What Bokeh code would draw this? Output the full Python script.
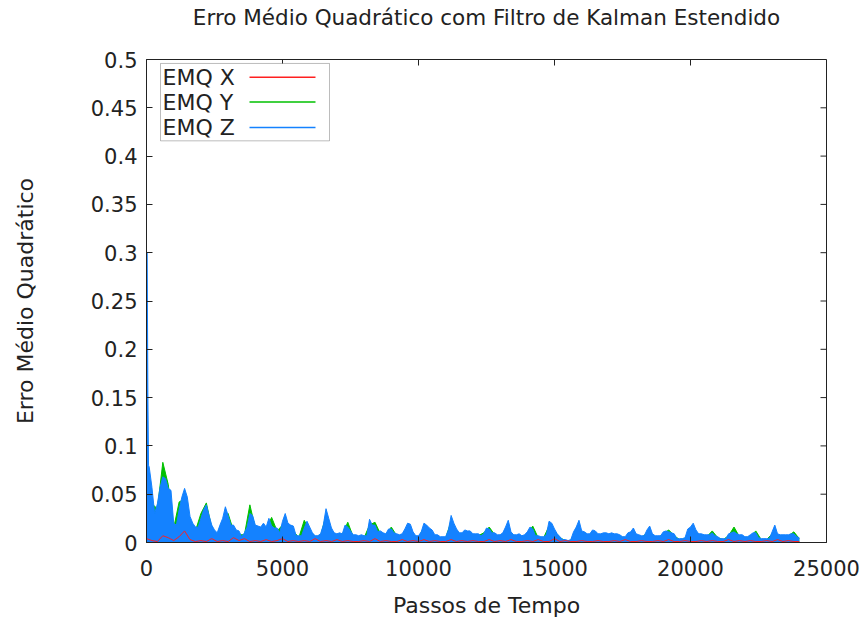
import math
from bokeh.plotting import figure
from bokeh.models import Range1d, FixedTicker, BoxAnnotation, Label, Arrow, ColumnDataSource
from bokeh.embed import file_html
from bokeh.resources import INLINE

TITLE = "Erro Médio Quadrático com Filtro de Kalman Estendido"
X_LABEL = "Passos de Tempo"
Y_LABEL = "Erro Médio Quadrático"
SERIES_NAMES = ["EMQ X", "EMQ Y", "EMQ Z"]
SERIES_COLORS = ["#ff2020", "#00c000", "#1482ff"]

X_TICKS = [0, 5000, 10000, 15000, 20000, 25000]
X_TICK_LABELS = ["0", "5000", "10000", "15000", "20000", "25000"]
Y_TICKS = [0, 0.05, 0.1, 0.15, 0.2, 0.25, 0.3, 0.35, 0.4, 0.45, 0.5]
Y_TICK_LABELS = ["0", "0.05", "0.1", "0.15", "0.2", "0.25", "0.3", "0.35", "0.4", "0.45", "0.5"]

# EMQ Z
Z_STEPS = [0, 25, 50, 75] + list(range(100, 24001, 100))
Z_VALUES = [
    0.300, 0.300, 0.155, 0.080,
    0.078, 0.057, 0.030, 0.040, 0.057, 0.068, 0.066, 0.056, 0.054,
    0.020, 0.018, 0.034, 0.047, 0.056, 0.047, 0.027, 0.020, 0.016, 0.016,
    0.025, 0.034, 0.039, 0.028, 0.018, 0.013, 0.010, 0.018, 0.025, 0.037,
    0.028, 0.018, 0.018, 0.013, 0.012, 0.006, 0.010, 0.016, 0.030, 0.028,
    0.018, 0.017, 0.016, 0.020, 0.016, 0.025, 0.017, 0.015, 0.015, 0.010,
    0.022, 0.030, 0.020, 0.018, 0.017, 0.007, 0.007, 0.007, 0.015, 0.022,
    0.016, 0.010, 0.007, 0.007, 0.009, 0.018, 0.035, 0.025, 0.015, 0.010,
    0.009, 0.010, 0.009, 0.018, 0.016, 0.012, 0.008, 0.008, 0.007, 0.008,
    0.007, 0.007, 0.024, 0.018, 0.018, 0.011, 0.012, 0.010, 0.009, 0.014,
    0.014, 0.010, 0.009, 0.008, 0.009, 0.014, 0.020, 0.019, 0.011, 0.007,
    0.007, 0.011, 0.020, 0.018, 0.015, 0.013, 0.008, 0.008, 0.006, 0.006,
    0.006, 0.013, 0.028, 0.020, 0.014, 0.010, 0.010, 0.013, 0.012, 0.012,
    0.009, 0.009, 0.009, 0.007, 0.009, 0.015, 0.014, 0.010, 0.010, 0.008,
    0.008, 0.010, 0.016, 0.023, 0.011, 0.008, 0.008, 0.009, 0.007, 0.008,
    0.011, 0.016, 0.014, 0.007, 0.007, 0.006, 0.006, 0.008, 0.022, 0.020,
    0.014, 0.009, 0.006, 0.003, 0.003, 0.002, 0.003, 0.011, 0.016, 0.023,
    0.012, 0.011, 0.009, 0.009, 0.013, 0.012, 0.009, 0.009, 0.010, 0.010,
    0.009, 0.010, 0.009, 0.009, 0.008, 0.006, 0.006, 0.010, 0.011, 0.015,
    0.009, 0.008, 0.007, 0.007, 0.013, 0.017, 0.009, 0.007, 0.007, 0.007,
    0.011, 0.012, 0.011, 0.010, 0.009, 0.004, 0.004, 0.004, 0.005, 0.014,
    0.016, 0.020, 0.013, 0.009, 0.009, 0.008, 0.008, 0.008, 0.010, 0.007,
    0.006, 0.004, 0.004, 0.004, 0.009, 0.010, 0.011, 0.009, 0.008, 0.008,
    0.006, 0.006, 0.008, 0.010, 0.010, 0.005, 0.004, 0.004, 0.004, 0.004,
    0.011, 0.018, 0.009, 0.008, 0.008, 0.008, 0.008, 0.009, 0.009, 0.006,
    0.005,
]

# EMQ Y
Y_STEPS = list(range(0, 24001, 200))
Y_VALUES = [
    0.010, 0.040, 0.035, 0.083, 0.060, 0.015, 0.042, 0.045, 0.020, 0.012,
    0.030, 0.041, 0.015, 0.008, 0.022, 0.030, 0.012, 0.008, 0.008, 0.039,
    0.015, 0.012, 0.014, 0.026, 0.012, 0.018, 0.016, 0.012, 0.005, 0.023,
    0.012, 0.006, 0.007, 0.028, 0.012, 0.007, 0.008, 0.021, 0.006, 0.006,
    0.005, 0.018, 0.021, 0.009, 0.008, 0.016, 0.007, 0.007, 0.016, 0.008,
    0.005, 0.016, 0.012, 0.006, 0.005, 0.005, 0.022, 0.011, 0.008, 0.010,
    0.007, 0.007, 0.010, 0.016, 0.008, 0.006, 0.012, 0.009, 0.006, 0.005,
    0.009, 0.017, 0.005, 0.005, 0.017, 0.011, 0.005, 0.002, 0.002, 0.013,
    0.010, 0.007, 0.010, 0.007, 0.008, 0.007, 0.007, 0.006, 0.005, 0.009,
    0.007, 0.005, 0.010, 0.007, 0.005, 0.009, 0.013, 0.007, 0.003, 0.004,
    0.013, 0.010, 0.007, 0.006, 0.012, 0.005, 0.003, 0.007, 0.016, 0.006,
    0.005, 0.006, 0.012, 0.003, 0.003, 0.009, 0.007, 0.006, 0.007, 0.011,
    0.004,
]

# EMQ X
X_STEPS = list(range(0, 24001, 200))
X_VALUES = [
    0.004, 0.002, 0.001, 0.007, 0.005, 0.002, 0.006, 0.012, 0.003, 0.001,
    0.002, 0.001, 0.004, 0.001, 0.002, 0.001, 0.005, 0.002, 0.004, 0.001,
    0.002, 0.001, 0.003, 0.001, 0.002, 0.004, 0.001, 0.002, 0.001, 0.002,
    0.001, 0.004, 0.001, 0.002, 0.001, 0.003, 0.001, 0.002, 0.001, 0.001,
    0.002, 0.001, 0.004, 0.001, 0.002, 0.001, 0.001, 0.003, 0.001, 0.002,
    0.001, 0.003, 0.001, 0.002, 0.001, 0.001, 0.003, 0.001, 0.002, 0.001,
    0.002, 0.001, 0.001, 0.003, 0.001, 0.002, 0.001, 0.003, 0.001, 0.001,
    0.002, 0.001, 0.003, 0.001, 0.001, 0.004, 0.001, 0.002, 0.001, 0.001,
    0.002, 0.001, 0.001, 0.002, 0.001, 0.001, 0.002, 0.001, 0.003, 0.001,
    0.001, 0.002, 0.001, 0.001, 0.002, 0.001, 0.003, 0.001, 0.001, 0.002,
    0.001, 0.001, 0.002, 0.001, 0.002, 0.001, 0.001, 0.003, 0.001, 0.002,
    0.001, 0.002, 0.001, 0.001, 0.002, 0.001, 0.003, 0.001, 0.002, 0.001,
    0.001,
]

FONT = "DejaVu Sans"
TEXT_COLOR = "#222222"
BORDER = "#222222"

p = figure(width=863, height=620, output_backend="svg", toolbar_location=None,
           x_range=Range1d(X_TICKS[0], X_TICKS[-1]), y_range=Range1d(Y_TICKS[0], Y_TICKS[-1]),
           min_border_left=146, min_border_right=37, min_border_top=59, min_border_bottom=74)
p.background_fill_color = "white"
p.border_fill_color = "white"
p.outline_line_color = BORDER
p.outline_line_width = 1
p.xgrid.visible = False
p.ygrid.visible = False

p.title.text = TITLE
p.title.align = "center"
p.title.vertical_align = "top"
p.title.text_font = FONT
p.title.text_font_size = "21.5px"
p.title.text_font_style = "normal"
p.title.text_color = TEXT_COLOR
p.title.standoff = 0
p.title.padding = dict(left=0, right=0, top=0, bottom=28)

def style_axis(ax, ticks, labels):
    ax.ticker = FixedTicker(ticks=ticks)
    ax.major_label_overrides = {t: l for t, l in zip(ticks, labels)}
    ax.minor_tick_line_color = None
    ax.major_tick_in = 6
    ax.major_tick_out = 0
    ax.major_tick_line_color = BORDER
    ax.axis_line_color = BORDER
    ax.major_label_text_font = FONT
    ax.major_label_text_color = TEXT_COLOR
    ax.major_label_text_font_size = "21px"
    ax.axis_label_text_font = FONT
    ax.axis_label_text_font_style = "normal"
    ax.axis_label_text_color = TEXT_COLOR
    ax.axis_label_text_font_size = "22px"

xa = p.xaxis[0]
style_axis(xa, X_TICKS, X_TICK_LABELS)
xa.axis_label = X_LABEL
xa.major_label_standoff = 17
xa.axis_label_standoff = 14

ya = p.yaxis[0]
style_axis(ya, Y_TICKS, Y_TICK_LABELS)
ya.axis_label = Y_LABEL
ya.major_label_standoff = 9
ya.axis_label_standoff = 50

# mirrored inward ticks on the top and right borders (gnuplot style)
p.ray(x=X_TICKS, y=[Y_TICKS[-1]] * len(X_TICKS), length=6, angle=-math.pi / 2,
      length_units="screen", line_color=BORDER, line_width=1)
p.ray(x=[X_TICKS[-1]] * len(Y_TICKS), y=Y_TICKS, length=6, angle=math.pi,
      length_units="screen", line_color=BORDER, line_width=1)

# series: dense gnuplot lines appear as filled areas
srcx = ColumnDataSource(dict(x=X_STEPS, y=X_VALUES))
srcy = ColumnDataSource(dict(x=Y_STEPS, y=Y_VALUES))
srcz = ColumnDataSource(dict(x=Z_STEPS, y=Z_VALUES))

p.varea(x="x", y1=0, y2="y", source=srcy, fill_color=SERIES_COLORS[1])
p.line(x="x", y="y", source=srcy, line_color=SERIES_COLORS[1], line_width=1)
p.varea(x="x", y1=0, y2="y", source=srcz, fill_color=SERIES_COLORS[2])
p.line(x="x", y="y", source=srcz, line_color=SERIES_COLORS[2], line_width=1)
p.line(x="x", y="y", source=srcx, line_color=SERIES_COLORS[0], line_width=1)

# legend (label on the left, line sample on the right, as in the original)
box = BoxAnnotation(left=515, right=6728, bottom=0.4158, top=0.4959,
                    fill_color="white", fill_alpha=1.0, line_color=BORDER, line_width=1)
p.add_layout(box)
legend_y = [0.4815, 0.4559, 0.4297]
for name, color, yy in zip(SERIES_NAMES, SERIES_COLORS, legend_y):
    p.add_layout(Label(x=588, y=yy, text=name, text_baseline="middle", text_align="left",
                       text_font=FONT, text_font_size="22px", text_color=TEXT_COLOR))
    p.add_layout(Arrow(end=None, x_start=3787, y_start=yy, x_end=6213, y_end=yy,
                       line_color=color, line_width=1.5))

open("out.html", "w").write(file_html(p, INLINE))
